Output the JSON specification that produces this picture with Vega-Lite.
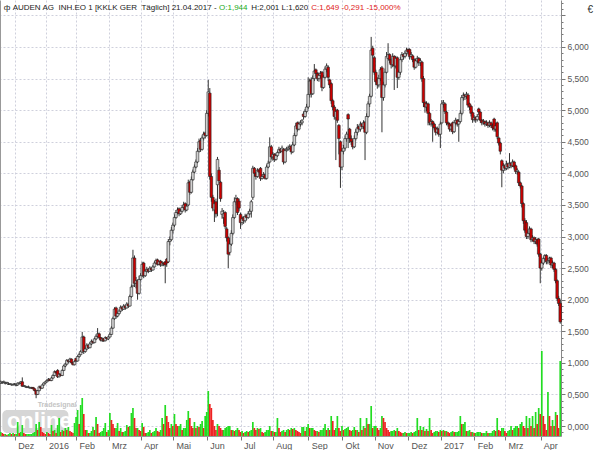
{
"$schema": "https://vega.github.io/schema/vega-lite/v6.json",
"width": 561, "height": 436,
"autosize": {"type": "none"},
"padding": {"left": 0, "top": 0, "right": 39, "bottom": 14},
"background": "white",
"config": {"view": {"stroke": null}, "font": "Liberation Sans"},
"data": {"values": [
{"d":"2015-11-17","o":0.68,"h":0.72,"l":0.67,"c":0.70,"v":4},
{"d":"2015-11-18","o":0.68,"h":0.71,"l":0.67,"c":0.69,"v":3},
{"d":"2015-11-19","o":0.69,"h":0.72,"l":0.68,"c":0.70,"v":2},
{"d":"2015-11-20","o":0.67,"h":0.70,"l":0.66,"c":0.68,"v":2},
{"d":"2015-11-23","o":0.68,"h":0.70,"l":0.67,"c":0.69,"v":1},
{"d":"2015-11-24","o":0.66,"h":0.69,"l":0.65,"c":0.66,"v":2},
{"d":"2015-11-25","o":0.66,"h":0.68,"l":0.65,"c":0.67,"v":3},
{"d":"2015-11-26","o":0.65,"h":0.67,"l":0.64,"c":0.66,"v":2},
{"d":"2015-11-27","o":0.65,"h":0.67,"l":0.64,"c":0.66,"v":3},
{"d":"2015-11-30","o":0.66,"h":0.68,"l":0.65,"c":0.67,"v":2},
{"d":"2015-12-01","o":0.64,"h":0.67,"l":0.63,"c":0.65,"v":2},
{"d":"2015-12-02","o":0.65,"h":0.69,"l":0.64,"c":0.68,"v":14},
{"d":"2015-12-03","o":0.67,"h":0.69,"l":0.66,"c":0.68,"v":3},
{"d":"2015-12-04","o":0.68,"h":0.71,"l":0.67,"c":0.70,"v":4},
{"d":"2015-12-07","o":0.70,"h":0.77,"l":0.62,"c":0.63,"v":11},
{"d":"2015-12-08","o":0.63,"h":0.65,"l":0.62,"c":0.64,"v":3},
{"d":"2015-12-09","o":0.62,"h":0.64,"l":0.61,"c":0.63,"v":2},
{"d":"2015-12-10","o":0.61,"h":0.63,"l":0.60,"c":0.62,"v":2},
{"d":"2015-12-11","o":0.61,"h":0.64,"l":0.60,"c":0.62,"v":2},
{"d":"2015-12-14","o":0.60,"h":0.62,"l":0.59,"c":0.61,"v":2},
{"d":"2015-12-15","o":0.60,"h":0.62,"l":0.59,"c":0.61,"v":2},
{"d":"2015-12-16","o":0.61,"h":0.62,"l":0.58,"c":0.59,"v":3},
{"d":"2015-12-17","o":0.59,"h":0.60,"l":0.55,"c":0.56,"v":4},
{"d":"2015-12-18","o":0.56,"h":0.57,"l":0.44,"c":0.50,"v":12},
{"d":"2015-12-21","o":0.50,"h":0.57,"l":0.49,"c":0.56,"v":6},
{"d":"2015-12-22","o":0.56,"h":0.64,"l":0.55,"c":0.62,"v":14},
{"d":"2015-12-23","o":0.62,"h":0.63,"l":0.58,"c":0.60,"v":9},
{"d":"2015-12-28","o":0.60,"h":0.66,"l":0.59,"c":0.65,"v":4},
{"d":"2015-12-29","o":0.65,"h":0.69,"l":0.64,"c":0.68,"v":3},
{"d":"2015-12-30","o":0.68,"h":0.71,"l":0.67,"c":0.70,"v":2},
{"d":"2016-01-04","o":0.70,"h":0.74,"l":0.69,"c":0.72,"v":4},
{"d":"2016-01-05","o":0.72,"h":0.76,"l":0.71,"c":0.74,"v":3},
{"d":"2016-01-06","o":0.74,"h":0.75,"l":0.71,"c":0.72,"v":2},
{"d":"2016-01-07","o":0.72,"h":0.78,"l":0.71,"c":0.76,"v":11},
{"d":"2016-01-08","o":0.76,"h":0.82,"l":0.75,"c":0.80,"v":5},
{"d":"2016-01-11","o":0.80,"h":0.88,"l":0.79,"c":0.86,"v":6},
{"d":"2016-01-12","o":0.86,"h":0.87,"l":0.82,"c":0.84,"v":3},
{"d":"2016-01-13","o":0.88,"h":0.90,"l":0.76,"c":0.78,"v":11},
{"d":"2016-01-14","o":0.78,"h":0.84,"l":0.77,"c":0.82,"v":18},
{"d":"2016-01-15","o":0.82,"h":0.83,"l":0.79,"c":0.80,"v":4},
{"d":"2016-01-18","o":0.80,"h":0.90,"l":0.79,"c":0.88,"v":6},
{"d":"2016-01-19","o":0.88,"h":0.97,"l":0.87,"c":0.95,"v":5},
{"d":"2016-01-20","o":0.95,"h":1.00,"l":0.93,"c":0.98,"v":8},
{"d":"2016-01-21","o":0.98,"h":1.06,"l":0.97,"c":1.04,"v":6},
{"d":"2016-01-22","o":1.04,"h":1.05,"l":1.00,"c":1.02,"v":9},
{"d":"2016-01-25","o":1.02,"h":1.08,"l":1.01,"c":1.06,"v":5},
{"d":"2016-01-26","o":1.06,"h":1.07,"l":0.99,"c":1.00,"v":4},
{"d":"2016-01-27","o":1.00,"h":1.01,"l":0.96,"c":0.97,"v":3},
{"d":"2016-01-28","o":0.97,"h":1.04,"l":0.96,"c":1.02,"v":13},
{"d":"2016-01-29","o":1.07,"h":1.08,"l":1.01,"c":1.03,"v":19},
{"d":"2016-02-01","o":1.03,"h":1.12,"l":1.02,"c":1.10,"v":26},
{"d":"2016-02-02","o":1.10,"h":1.16,"l":1.08,"c":1.13,"v":12},
{"d":"2016-02-03","o":1.13,"h":1.20,"l":1.12,"c":1.18,"v":31},
{"d":"2016-02-04","o":1.17,"h":1.49,"l":1.16,"c":1.41,"v":38},
{"d":"2016-02-05","o":1.41,"h":1.43,"l":1.14,"c":1.18,"v":22},
{"d":"2016-02-08","o":1.18,"h":1.26,"l":1.16,"c":1.22,"v":6},
{"d":"2016-02-09","o":1.22,"h":1.31,"l":1.20,"c":1.28,"v":6},
{"d":"2016-02-10","o":1.28,"h":1.29,"l":1.22,"c":1.24,"v":3},
{"d":"2016-02-11","o":1.24,"h":1.33,"l":1.23,"c":1.30,"v":3},
{"d":"2016-02-12","o":1.30,"h":1.37,"l":1.28,"c":1.34,"v":5},
{"d":"2016-02-15","o":1.34,"h":1.35,"l":1.30,"c":1.32,"v":9},
{"d":"2016-02-16","o":1.32,"h":1.40,"l":1.31,"c":1.38,"v":6},
{"d":"2016-02-17","o":1.38,"h":1.45,"l":1.36,"c":1.42,"v":19},
{"d":"2016-02-18","o":1.42,"h":1.55,"l":1.40,"c":1.46,"v":12},
{"d":"2016-02-19","o":1.46,"h":1.48,"l":1.38,"c":1.40,"v":3},
{"d":"2016-02-22","o":1.40,"h":1.41,"l":1.34,"c":1.36,"v":4},
{"d":"2016-02-23","o":1.36,"h":1.40,"l":1.33,"c":1.38,"v":5},
{"d":"2016-02-24","o":1.38,"h":1.39,"l":1.33,"c":1.35,"v":8},
{"d":"2016-02-25","o":1.35,"h":1.42,"l":1.34,"c":1.40,"v":13},
{"d":"2016-02-26","o":1.40,"h":1.41,"l":1.36,"c":1.38,"v":4},
{"d":"2016-02-29","o":1.38,"h":1.43,"l":1.36,"c":1.41,"v":6},
{"d":"2016-03-01","o":1.41,"h":1.48,"l":1.40,"c":1.45,"v":23},
{"d":"2016-03-02","o":1.45,"h":1.58,"l":1.44,"c":1.55,"v":16},
{"d":"2016-03-03","o":1.55,"h":1.73,"l":1.54,"c":1.70,"v":12},
{"d":"2016-03-04","o":1.70,"h":1.88,"l":1.68,"c":1.85,"v":8},
{"d":"2016-03-07","o":1.87,"h":1.89,"l":1.70,"c":1.74,"v":8},
{"d":"2016-03-08","o":1.74,"h":1.80,"l":1.72,"c":1.78,"v":13},
{"d":"2016-03-09","o":1.78,"h":1.85,"l":1.76,"c":1.82,"v":5},
{"d":"2016-03-10","o":1.82,"h":1.91,"l":1.80,"c":1.88,"v":8},
{"d":"2016-03-11","o":1.88,"h":1.90,"l":1.82,"c":1.85,"v":4},
{"d":"2016-03-14","o":1.85,"h":1.93,"l":1.84,"c":1.90,"v":4},
{"d":"2016-03-15","o":1.90,"h":1.91,"l":1.84,"c":1.87,"v":5},
{"d":"2016-03-16","o":1.87,"h":1.96,"l":1.86,"c":1.93,"v":11},
{"d":"2016-03-17","o":1.93,"h":1.94,"l":1.87,"c":1.90,"v":9},
{"d":"2016-03-18","o":1.90,"h":2.08,"l":1.89,"c":2.05,"v":10},
{"d":"2016-03-21","o":2.05,"h":2.24,"l":2.03,"c":2.20,"v":23},
{"d":"2016-03-22","o":2.22,"h":2.79,"l":2.20,"c":2.66,"v":28},
{"d":"2016-03-23","o":2.66,"h":2.70,"l":2.20,"c":2.26,"v":18},
{"d":"2016-03-24","o":2.26,"h":2.36,"l":2.18,"c":2.30,"v":8},
{"d":"2016-03-29","o":2.30,"h":2.32,"l":2.00,"c":2.10,"v":8},
{"d":"2016-03-30","o":2.10,"h":2.38,"l":2.08,"c":2.32,"v":6},
{"d":"2016-03-31","o":2.32,"h":2.42,"l":2.30,"c":2.38,"v":5},
{"d":"2016-04-01","o":2.38,"h":2.60,"l":2.36,"c":2.56,"v":13},
{"d":"2016-04-04","o":2.58,"h":2.60,"l":2.34,"c":2.38,"v":9},
{"d":"2016-04-05","o":2.38,"h":2.48,"l":2.36,"c":2.45,"v":3},
{"d":"2016-04-06","o":2.45,"h":2.52,"l":2.43,"c":2.48,"v":3},
{"d":"2016-04-07","o":2.48,"h":2.50,"l":2.42,"c":2.45,"v":4},
{"d":"2016-04-08","o":2.45,"h":2.53,"l":2.44,"c":2.50,"v":6},
{"d":"2016-04-11","o":2.50,"h":2.51,"l":2.44,"c":2.47,"v":3},
{"d":"2016-04-12","o":2.47,"h":2.55,"l":2.46,"c":2.52,"v":4},
{"d":"2016-04-13","o":2.52,"h":2.61,"l":2.51,"c":2.58,"v":5},
{"d":"2016-04-14","o":2.58,"h":2.65,"l":2.56,"c":2.62,"v":8},
{"d":"2016-04-15","o":2.63,"h":2.65,"l":2.54,"c":2.56,"v":5},
{"d":"2016-04-18","o":2.56,"h":2.62,"l":2.54,"c":2.60,"v":4},
{"d":"2016-04-19","o":2.61,"h":2.63,"l":2.52,"c":2.55,"v":6},
{"d":"2016-04-20","o":2.55,"h":2.61,"l":2.53,"c":2.58,"v":18},
{"d":"2016-04-21","o":2.58,"h":2.59,"l":2.53,"c":2.56,"v":12},
{"d":"2016-04-22","o":2.60,"h":2.61,"l":2.26,"c":2.55,"v":31},
{"d":"2016-04-25","o":2.64,"h":2.66,"l":2.52,"c":2.58,"v":20},
{"d":"2016-04-26","o":2.60,"h":2.96,"l":2.58,"c":2.92,"v":14},
{"d":"2016-04-27","o":2.92,"h":3.00,"l":2.86,"c":2.95,"v":8},
{"d":"2016-04-28","o":2.95,"h":3.15,"l":2.93,"c":3.10,"v":12},
{"d":"2016-04-29","o":3.10,"h":3.22,"l":3.05,"c":3.18,"v":10},
{"d":"2016-05-02","o":3.18,"h":3.35,"l":3.15,"c":3.30,"v":22},
{"d":"2016-05-03","o":3.30,"h":3.42,"l":3.28,"c":3.38,"v":12},
{"d":"2016-05-04","o":3.38,"h":3.46,"l":3.35,"c":3.42,"v":10},
{"d":"2016-05-05","o":3.44,"h":3.46,"l":3.32,"c":3.36,"v":10},
{"d":"2016-05-06","o":3.36,"h":3.44,"l":3.34,"c":3.40,"v":12},
{"d":"2016-05-09","o":3.40,"h":3.50,"l":3.38,"c":3.46,"v":6},
{"d":"2016-05-10","o":3.46,"h":3.55,"l":3.44,"c":3.50,"v":8},
{"d":"2016-05-11","o":3.52,"h":3.54,"l":3.38,"c":3.42,"v":8},
{"d":"2016-05-12","o":3.42,"h":3.52,"l":3.40,"c":3.48,"v":16},
{"d":"2016-05-13","o":3.50,"h":3.90,"l":3.48,"c":3.85,"v":25},
{"d":"2016-05-16","o":3.86,"h":3.88,"l":3.66,"c":3.70,"v":18},
{"d":"2016-05-17","o":3.70,"h":3.95,"l":3.68,"c":3.90,"v":10},
{"d":"2016-05-18","o":3.90,"h":4.06,"l":3.88,"c":4.02,"v":8},
{"d":"2016-05-19","o":4.02,"h":4.14,"l":4.00,"c":4.10,"v":14},
{"d":"2016-05-20","o":4.10,"h":4.22,"l":4.08,"c":4.18,"v":8},
{"d":"2016-05-23","o":4.18,"h":4.40,"l":4.16,"c":4.35,"v":10},
{"d":"2016-05-24","o":4.35,"h":4.55,"l":4.33,"c":4.50,"v":9},
{"d":"2016-05-25","o":4.52,"h":4.56,"l":4.34,"c":4.38,"v":12},
{"d":"2016-05-26","o":4.38,"h":4.60,"l":4.36,"c":4.56,"v":15},
{"d":"2016-05-27","o":4.56,"h":4.66,"l":4.52,"c":4.62,"v":8},
{"d":"2016-05-30","o":4.64,"h":4.66,"l":4.55,"c":4.60,"v":20},
{"d":"2016-05-31","o":4.60,"h":5.00,"l":4.58,"c":4.95,"v":24},
{"d":"2016-06-01","o":4.95,"h":5.48,"l":4.90,"c":5.29,"v":45},
{"d":"2016-06-02","o":5.27,"h":5.35,"l":3.90,"c":3.95,"v":32},
{"d":"2016-06-03","o":3.95,"h":4.00,"l":3.55,"c":3.62,"v":28},
{"d":"2016-06-06","o":3.62,"h":3.66,"l":3.40,"c":3.45,"v":16},
{"d":"2016-06-07","o":3.42,"h":3.58,"l":3.23,"c":3.52,"v":10},
{"d":"2016-06-08","o":3.55,"h":3.60,"l":3.30,"c":3.36,"v":6},
{"d":"2016-06-09","o":3.82,"h":4.26,"l":3.32,"c":4.22,"v":12},
{"d":"2016-06-10","o":4.05,"h":4.10,"l":3.84,"c":3.88,"v":10},
{"d":"2016-06-13","o":3.86,"h":3.88,"l":3.55,"c":3.60,"v":8},
{"d":"2016-06-14","o":3.35,"h":3.45,"l":3.28,"c":3.40,"v":6},
{"d":"2016-06-15","o":3.30,"h":3.42,"l":3.20,"c":3.36,"v":6},
{"d":"2016-06-16","o":3.38,"h":3.40,"l":3.12,"c":3.16,"v":8},
{"d":"2016-06-17","o":3.12,"h":3.15,"l":2.92,"c":2.98,"v":9},
{"d":"2016-06-20","o":2.98,"h":3.00,"l":2.50,"c":2.72,"v":10},
{"d":"2016-06-21","o":2.75,"h":2.95,"l":2.70,"c":2.88,"v":10},
{"d":"2016-06-22","o":2.88,"h":3.10,"l":2.85,"c":3.05,"v":6},
{"d":"2016-06-23","o":3.05,"h":3.35,"l":3.02,"c":3.30,"v":6},
{"d":"2016-06-24","o":3.30,"h":3.62,"l":3.28,"c":3.55,"v":5},
{"d":"2016-06-27","o":3.55,"h":3.66,"l":3.50,"c":3.60,"v":6},
{"d":"2016-06-28","o":3.60,"h":3.62,"l":3.34,"c":3.38,"v":8},
{"d":"2016-06-29","o":3.56,"h":3.60,"l":3.40,"c":3.45,"v":6},
{"d":"2016-06-30","o":3.35,"h":3.38,"l":3.12,"c":3.22,"v":4},
{"d":"2016-07-01","o":3.22,"h":3.32,"l":3.18,"c":3.28,"v":5},
{"d":"2016-07-04","o":3.30,"h":3.32,"l":3.20,"c":3.25,"v":3},
{"d":"2016-07-05","o":3.25,"h":3.36,"l":3.22,"c":3.32,"v":4},
{"d":"2016-07-06","o":3.33,"h":3.35,"l":3.26,"c":3.30,"v":5},
{"d":"2016-07-07","o":3.30,"h":3.40,"l":3.28,"c":3.36,"v":4},
{"d":"2016-07-08","o":3.36,"h":3.44,"l":3.34,"c":3.40,"v":5},
{"d":"2016-07-11","o":3.40,"h":3.58,"l":3.30,"c":3.55,"v":6},
{"d":"2016-07-12","o":3.62,"h":4.12,"l":3.58,"c":4.08,"v":14},
{"d":"2016-07-13","o":4.08,"h":4.10,"l":3.95,"c":4.00,"v":8},
{"d":"2016-07-14","o":4.00,"h":4.02,"l":3.90,"c":3.95,"v":6},
{"d":"2016-07-15","o":3.95,"h":4.08,"l":3.93,"c":4.05,"v":8},
{"d":"2016-07-18","o":4.05,"h":4.07,"l":3.98,"c":4.02,"v":7},
{"d":"2016-07-19","o":4.08,"h":4.10,"l":3.88,"c":3.92,"v":8},
{"d":"2016-07-20","o":3.92,"h":3.99,"l":3.90,"c":3.95,"v":4},
{"d":"2016-07-21","o":3.95,"h":4.02,"l":3.92,"c":3.98,"v":3},
{"d":"2016-07-22","o":3.98,"h":4.00,"l":3.90,"c":3.92,"v":4},
{"d":"2016-07-25","o":3.92,"h":4.14,"l":3.90,"c":4.10,"v":6},
{"d":"2016-07-26","o":4.10,"h":4.20,"l":4.08,"c":4.16,"v":6},
{"d":"2016-07-27","o":4.18,"h":4.57,"l":4.16,"c":4.42,"v":10},
{"d":"2016-07-28","o":4.42,"h":4.45,"l":4.22,"c":4.26,"v":5},
{"d":"2016-07-29","o":4.26,"h":4.34,"l":4.20,"c":4.30,"v":5},
{"d":"2016-08-01","o":4.30,"h":4.32,"l":4.18,"c":4.22,"v":4},
{"d":"2016-08-02","o":4.22,"h":4.32,"l":4.20,"c":4.28,"v":4},
{"d":"2016-08-03","o":4.28,"h":4.36,"l":4.26,"c":4.33,"v":18},
{"d":"2016-08-04","o":4.33,"h":4.42,"l":4.31,"c":4.38,"v":8},
{"d":"2016-08-05","o":4.38,"h":4.40,"l":4.32,"c":4.35,"v":4},
{"d":"2016-08-08","o":4.35,"h":4.44,"l":4.33,"c":4.40,"v":5},
{"d":"2016-08-09","o":4.38,"h":4.40,"l":4.14,"c":4.18,"v":6},
{"d":"2016-08-10","o":4.18,"h":4.40,"l":4.16,"c":4.36,"v":4},
{"d":"2016-08-11","o":4.36,"h":4.42,"l":4.34,"c":4.38,"v":6},
{"d":"2016-08-12","o":4.38,"h":4.44,"l":4.36,"c":4.40,"v":7},
{"d":"2016-08-15","o":4.40,"h":4.46,"l":4.38,"c":4.42,"v":6},
{"d":"2016-08-16","o":4.43,"h":4.45,"l":4.30,"c":4.34,"v":8},
{"d":"2016-08-17","o":4.34,"h":4.50,"l":4.32,"c":4.45,"v":7},
{"d":"2016-08-18","o":4.45,"h":4.64,"l":4.43,"c":4.60,"v":8},
{"d":"2016-08-19","o":4.60,"h":4.80,"l":4.58,"c":4.75,"v":6},
{"d":"2016-08-22","o":4.80,"h":4.82,"l":4.66,"c":4.70,"v":5},
{"d":"2016-08-23","o":4.70,"h":4.82,"l":4.68,"c":4.78,"v":4},
{"d":"2016-08-24","o":4.78,"h":4.84,"l":4.74,"c":4.80,"v":3},
{"d":"2016-08-25","o":4.80,"h":4.86,"l":4.76,"c":4.83,"v":9},
{"d":"2016-08-26","o":4.94,"h":4.98,"l":4.85,"c":4.90,"v":9},
{"d":"2016-08-29","o":4.90,"h":5.02,"l":4.88,"c":4.98,"v":5},
{"d":"2016-08-30","o":4.98,"h":5.10,"l":4.95,"c":5.05,"v":9},
{"d":"2016-08-31","o":5.05,"h":5.52,"l":5.02,"c":5.25,"v":12},
{"d":"2016-09-01","o":5.25,"h":5.50,"l":5.20,"c":5.46,"v":8},
{"d":"2016-09-02","o":5.48,"h":5.52,"l":5.20,"c":5.26,"v":8},
{"d":"2016-09-05","o":5.26,"h":5.55,"l":5.24,"c":5.50,"v":8},
{"d":"2016-09-06","o":5.50,"h":5.73,"l":5.46,"c":5.62,"v":6},
{"d":"2016-09-07","o":5.64,"h":5.66,"l":5.54,"c":5.58,"v":5},
{"d":"2016-09-08","o":5.58,"h":5.60,"l":5.46,"c":5.50,"v":5},
{"d":"2016-09-09","o":5.50,"h":5.60,"l":5.45,"c":5.55,"v":4},
{"d":"2016-09-12","o":5.55,"h":5.62,"l":5.50,"c":5.58,"v":6},
{"d":"2016-09-13","o":5.60,"h":5.62,"l":5.30,"c":5.36,"v":6},
{"d":"2016-09-14","o":5.36,"h":5.56,"l":5.34,"c":5.52,"v":8},
{"d":"2016-09-15","o":5.52,"h":5.69,"l":5.50,"c":5.65,"v":12},
{"d":"2016-09-16","o":5.65,"h":5.74,"l":5.60,"c":5.70,"v":6},
{"d":"2016-09-19","o":5.68,"h":5.71,"l":5.46,"c":5.52,"v":8},
{"d":"2016-09-20","o":5.48,"h":5.50,"l":5.35,"c":5.40,"v":6},
{"d":"2016-09-21","o":5.42,"h":5.44,"l":5.10,"c":5.15,"v":20},
{"d":"2016-09-22","o":5.15,"h":5.18,"l":5.00,"c":5.05,"v":15},
{"d":"2016-09-23","o":5.05,"h":5.08,"l":4.85,"c":4.90,"v":6},
{"d":"2016-09-26","o":4.88,"h":5.02,"l":4.21,"c":4.98,"v":8},
{"d":"2016-09-27","o":5.00,"h":5.02,"l":4.80,"c":4.84,"v":20},
{"d":"2016-09-28","o":4.76,"h":4.78,"l":4.30,"c":4.55,"v":8},
{"d":"2016-09-29","o":4.50,"h":4.52,"l":3.77,"c":4.10,"v":5},
{"d":"2016-09-30","o":4.10,"h":4.40,"l":4.05,"c":4.35,"v":10},
{"d":"2016-10-03","o":4.35,"h":4.45,"l":4.30,"c":4.40,"v":6},
{"d":"2016-10-04","o":4.40,"h":4.60,"l":4.36,"c":4.55,"v":7},
{"d":"2016-10-05","o":4.55,"h":4.66,"l":4.50,"c":4.62,"v":8},
{"d":"2016-10-06","o":4.93,"h":4.95,"l":4.40,"c":4.86,"v":9},
{"d":"2016-10-07","o":4.70,"h":4.72,"l":4.48,"c":4.55,"v":6},
{"d":"2016-10-10","o":4.55,"h":4.60,"l":4.45,"c":4.50,"v":5},
{"d":"2016-10-11","o":4.50,"h":4.52,"l":4.38,"c":4.42,"v":6},
{"d":"2016-10-12","o":4.42,"h":4.60,"l":4.40,"c":4.55,"v":9},
{"d":"2016-10-13","o":4.55,"h":4.70,"l":4.52,"c":4.65,"v":6},
{"d":"2016-10-14","o":4.65,"h":4.78,"l":4.60,"c":4.72,"v":6},
{"d":"2016-10-17","o":4.74,"h":4.76,"l":4.66,"c":4.70,"v":4},
{"d":"2016-10-18","o":4.70,"h":4.82,"l":4.66,"c":4.78,"v":18},
{"d":"2016-10-19","o":4.78,"h":4.80,"l":4.70,"c":4.74,"v":6},
{"d":"2016-10-20","o":4.74,"h":4.84,"l":4.70,"c":4.80,"v":10},
{"d":"2016-10-21","o":4.81,"h":4.83,"l":4.21,"c":4.65,"v":8},
{"d":"2016-10-24","o":4.65,"h":4.95,"l":4.62,"c":4.90,"v":18},
{"d":"2016-10-25","o":4.90,"h":5.14,"l":4.88,"c":5.10,"v":12},
{"d":"2016-10-26","o":5.10,"h":5.26,"l":5.05,"c":5.22,"v":12},
{"d":"2016-10-27","o":5.22,"h":6.16,"l":5.20,"c":5.95,"v":30},
{"d":"2016-10-28","o":5.98,"h":6.02,"l":5.82,"c":5.87,"v":8},
{"d":"2016-10-31","o":5.83,"h":5.86,"l":5.56,"c":5.60,"v":10},
{"d":"2016-11-01","o":5.60,"h":5.64,"l":5.40,"c":5.45,"v":10},
{"d":"2016-11-02","o":5.48,"h":5.52,"l":5.34,"c":5.40,"v":8},
{"d":"2016-11-03","o":5.40,"h":5.56,"l":5.36,"c":5.50,"v":6},
{"d":"2016-11-04","o":5.50,"h":5.68,"l":5.46,"c":5.64,"v":8},
{"d":"2016-11-07","o":5.67,"h":5.70,"l":4.65,"c":5.20,"v":20},
{"d":"2016-11-08","o":5.20,"h":5.45,"l":5.15,"c":5.40,"v":18},
{"d":"2016-11-09","o":5.40,"h":5.66,"l":5.36,"c":5.60,"v":14},
{"d":"2016-11-10","o":5.60,"h":5.92,"l":5.58,"c":5.85,"v":8},
{"d":"2016-11-11","o":5.82,"h":6.06,"l":5.78,"c":5.88,"v":6},
{"d":"2016-11-14","o":5.88,"h":5.90,"l":5.74,"c":5.80,"v":4},
{"d":"2016-11-15","o":5.80,"h":5.82,"l":5.66,"c":5.72,"v":5},
{"d":"2016-11-16","o":5.72,"h":5.90,"l":5.68,"c":5.85,"v":5},
{"d":"2016-11-17","o":5.85,"h":5.87,"l":5.32,"c":5.70,"v":6},
{"d":"2016-11-18","o":5.70,"h":5.86,"l":5.66,"c":5.82,"v":5},
{"d":"2016-11-21","o":5.83,"h":5.85,"l":5.35,"c":5.52,"v":8},
{"d":"2016-11-22","o":5.52,"h":5.64,"l":5.48,"c":5.60,"v":5},
{"d":"2016-11-23","o":5.60,"h":5.84,"l":5.56,"c":5.80,"v":4},
{"d":"2016-11-24","o":5.80,"h":5.92,"l":5.76,"c":5.88,"v":3},
{"d":"2016-11-25","o":5.88,"h":5.90,"l":5.80,"c":5.85,"v":3},
{"d":"2016-11-28","o":5.85,"h":5.94,"l":5.82,"c":5.90,"v":4},
{"d":"2016-11-29","o":5.90,"h":5.99,"l":5.86,"c":5.95,"v":3},
{"d":"2016-11-30","o":5.96,"h":5.98,"l":5.88,"c":5.92,"v":3},
{"d":"2016-12-01","o":5.96,"h":5.98,"l":5.80,"c":5.85,"v":3},
{"d":"2016-12-02","o":5.85,"h":5.92,"l":5.82,"c":5.88,"v":4},
{"d":"2016-12-05","o":5.86,"h":5.88,"l":5.76,"c":5.80,"v":3},
{"d":"2016-12-06","o":5.80,"h":5.82,"l":5.64,"c":5.68,"v":4},
{"d":"2016-12-07","o":5.68,"h":5.82,"l":5.66,"c":5.78,"v":5},
{"d":"2016-12-08","o":5.78,"h":5.86,"l":5.74,"c":5.82,"v":18},
{"d":"2016-12-09","o":5.82,"h":5.84,"l":5.70,"c":5.75,"v":6},
{"d":"2016-12-12","o":5.75,"h":5.82,"l":5.70,"c":5.78,"v":10},
{"d":"2016-12-13","o":5.76,"h":5.78,"l":5.45,"c":5.50,"v":6},
{"d":"2016-12-14","o":5.50,"h":5.54,"l":5.05,"c":5.12,"v":9},
{"d":"2016-12-15","o":5.12,"h":5.15,"l":4.96,"c":5.05,"v":5},
{"d":"2016-12-16","o":5.05,"h":5.14,"l":4.98,"c":5.10,"v":7},
{"d":"2016-12-19","o":5.10,"h":5.12,"l":4.76,"c":4.95,"v":5},
{"d":"2016-12-20","o":4.95,"h":4.97,"l":4.76,"c":4.80,"v":18},
{"d":"2016-12-21","o":4.78,"h":4.86,"l":4.74,"c":4.82,"v":6},
{"d":"2016-12-22","o":4.82,"h":4.84,"l":4.50,"c":4.78,"v":3},
{"d":"2016-12-23","o":4.78,"h":4.80,"l":4.68,"c":4.72,"v":4},
{"d":"2016-12-27","o":4.72,"h":4.74,"l":4.60,"c":4.65,"v":5},
{"d":"2016-12-28","o":4.65,"h":4.74,"l":4.62,"c":4.70,"v":5},
{"d":"2016-12-29","o":4.70,"h":4.72,"l":4.58,"c":4.62,"v":4},
{"d":"2016-12-30","o":4.62,"h":4.82,"l":4.40,"c":4.78,"v":6},
{"d":"2017-01-02","o":4.80,"h":5.16,"l":4.78,"c":5.10,"v":5},
{"d":"2017-01-03","o":5.10,"h":5.16,"l":5.04,"c":5.12,"v":6},
{"d":"2017-01-04","o":5.10,"h":5.12,"l":4.94,"c":4.98,"v":5},
{"d":"2017-01-05","o":4.97,"h":4.99,"l":4.76,"c":4.80,"v":5},
{"d":"2017-01-06","o":4.80,"h":4.82,"l":4.74,"c":4.78,"v":4},
{"d":"2017-01-09","o":4.78,"h":4.80,"l":4.66,"c":4.70,"v":3},
{"d":"2017-01-10","o":4.70,"h":4.79,"l":4.66,"c":4.75,"v":4},
{"d":"2017-01-11","o":4.80,"h":4.82,"l":4.62,"c":4.66,"v":5},
{"d":"2017-01-12","o":4.66,"h":4.84,"l":4.64,"c":4.80,"v":4},
{"d":"2017-01-13","o":4.80,"h":4.88,"l":4.76,"c":4.84,"v":4},
{"d":"2017-01-16","o":4.84,"h":4.86,"l":4.74,"c":4.78,"v":4},
{"d":"2017-01-17","o":4.78,"h":4.86,"l":4.50,"c":4.82,"v":5},
{"d":"2017-01-18","o":4.82,"h":5.00,"l":4.80,"c":4.95,"v":20},
{"d":"2017-01-19","o":4.95,"h":5.24,"l":4.92,"c":5.20,"v":12},
{"d":"2017-01-20","o":5.20,"h":5.28,"l":5.15,"c":5.24,"v":12},
{"d":"2017-01-23","o":5.24,"h":5.26,"l":5.16,"c":5.22,"v":14},
{"d":"2017-01-24","o":5.22,"h":5.29,"l":5.18,"c":5.25,"v":5},
{"d":"2017-01-25","o":5.24,"h":5.27,"l":5.04,"c":5.08,"v":5},
{"d":"2017-01-26","o":5.10,"h":5.12,"l":5.00,"c":5.05,"v":6},
{"d":"2017-01-27","o":5.06,"h":5.08,"l":4.90,"c":4.95,"v":4},
{"d":"2017-01-30","o":4.96,"h":4.98,"l":4.80,"c":4.85,"v":4},
{"d":"2017-01-31","o":4.85,"h":4.92,"l":4.82,"c":4.88,"v":3},
{"d":"2017-02-01","o":4.88,"h":4.90,"l":4.80,"c":4.85,"v":3},
{"d":"2017-02-02","o":4.85,"h":4.94,"l":4.82,"c":4.90,"v":4},
{"d":"2017-02-03","o":5.02,"h":5.04,"l":4.92,"c":4.97,"v":4},
{"d":"2017-02-06","o":4.97,"h":4.98,"l":4.80,"c":4.84,"v":4},
{"d":"2017-02-07","o":4.84,"h":4.86,"l":4.76,"c":4.80,"v":3},
{"d":"2017-02-08","o":4.80,"h":4.86,"l":4.77,"c":4.82,"v":3},
{"d":"2017-02-09","o":4.82,"h":4.84,"l":4.74,"c":4.78,"v":3},
{"d":"2017-02-10","o":4.78,"h":4.84,"l":4.75,"c":4.80,"v":5},
{"d":"2017-02-13","o":4.80,"h":4.82,"l":4.72,"c":4.76,"v":3},
{"d":"2017-02-14","o":4.76,"h":4.84,"l":4.73,"c":4.80,"v":3},
{"d":"2017-02-15","o":4.80,"h":4.82,"l":4.72,"c":4.76,"v":3},
{"d":"2017-02-16","o":4.76,"h":4.78,"l":4.68,"c":4.72,"v":5},
{"d":"2017-02-17","o":4.86,"h":4.88,"l":4.66,"c":4.70,"v":6},
{"d":"2017-02-20","o":4.70,"h":4.80,"l":4.66,"c":4.75,"v":5},
{"d":"2017-02-21","o":4.80,"h":4.82,"l":4.54,"c":4.58,"v":18},
{"d":"2017-02-22","o":4.56,"h":4.58,"l":4.44,"c":4.48,"v":6},
{"d":"2017-02-23","o":4.48,"h":4.50,"l":4.30,"c":4.35,"v":5},
{"d":"2017-02-24","o":4.20,"h":4.22,"l":3.78,"c":4.05,"v":8},
{"d":"2017-02-27","o":4.05,"h":4.16,"l":4.00,"c":4.12,"v":8},
{"d":"2017-02-28","o":4.12,"h":4.14,"l":4.04,"c":4.08,"v":5},
{"d":"2017-03-01","o":4.08,"h":4.20,"l":4.05,"c":4.15,"v":3},
{"d":"2017-03-02","o":4.15,"h":4.17,"l":4.06,"c":4.10,"v":5},
{"d":"2017-03-03","o":4.10,"h":4.32,"l":4.08,"c":4.16,"v":6},
{"d":"2017-03-06","o":4.16,"h":4.18,"l":4.08,"c":4.12,"v":10},
{"d":"2017-03-07","o":4.12,"h":4.22,"l":4.10,"c":4.18,"v":6},
{"d":"2017-03-08","o":4.18,"h":4.20,"l":4.06,"c":4.10,"v":8},
{"d":"2017-03-09","o":4.12,"h":4.14,"l":3.99,"c":4.03,"v":10},
{"d":"2017-03-10","o":4.03,"h":4.08,"l":3.98,"c":4.05,"v":10},
{"d":"2017-03-13","o":4.02,"h":4.04,"l":3.80,"c":3.85,"v":8},
{"d":"2017-03-14","o":3.85,"h":3.87,"l":3.76,"c":3.80,"v":12},
{"d":"2017-03-15","o":3.80,"h":3.82,"l":3.46,"c":3.52,"v":14},
{"d":"2017-03-16","o":3.52,"h":3.54,"l":3.20,"c":3.25,"v":10},
{"d":"2017-03-17","o":3.25,"h":3.29,"l":3.06,"c":3.10,"v":8},
{"d":"2017-03-20","o":3.22,"h":3.26,"l":2.96,"c":3.00,"v":20},
{"d":"2017-03-21","o":3.00,"h":3.10,"l":2.96,"c":3.05,"v":8},
{"d":"2017-03-22","o":3.05,"h":3.16,"l":3.02,"c":3.12,"v":18},
{"d":"2017-03-23","o":3.12,"h":3.14,"l":2.91,"c":2.95,"v":10},
{"d":"2017-03-24","o":2.95,"h":3.02,"l":2.92,"c":2.98,"v":20},
{"d":"2017-03-27","o":2.98,"h":3.00,"l":2.88,"c":2.92,"v":8},
{"d":"2017-03-28","o":2.92,"h":2.99,"l":2.88,"c":2.95,"v":24},
{"d":"2017-03-29","o":2.95,"h":2.97,"l":2.84,"c":2.88,"v":12},
{"d":"2017-03-30","o":2.96,"h":2.98,"l":2.68,"c":2.72,"v":28},
{"d":"2017-03-31","o":2.72,"h":2.74,"l":2.26,"c":2.50,"v":22},
{"d":"2017-04-03","o":2.50,"h":2.62,"l":2.46,"c":2.58,"v":85},
{"d":"2017-04-04","o":2.58,"h":2.68,"l":2.55,"c":2.65,"v":20},
{"d":"2017-04-05","o":2.65,"h":2.72,"l":2.60,"c":2.70,"v":12},
{"d":"2017-04-06","o":2.70,"h":2.72,"l":2.56,"c":2.60,"v":6},
{"d":"2017-04-07","o":2.60,"h":2.66,"l":2.56,"c":2.62,"v":44},
{"d":"2017-04-10","o":2.62,"h":2.68,"l":2.58,"c":2.66,"v":20},
{"d":"2017-04-11","o":2.66,"h":2.68,"l":2.50,"c":2.55,"v":10},
{"d":"2017-04-12","o":2.55,"h":2.62,"l":2.50,"c":2.58,"v":16},
{"d":"2017-04-13","o":2.58,"h":2.60,"l":2.44,"c":2.48,"v":10},
{"d":"2017-04-18","o":2.48,"h":2.50,"l":2.26,"c":2.30,"v":24},
{"d":"2017-04-19","o":2.30,"h":2.32,"l":1.98,"c":2.02,"v":21},
{"d":"2017-04-20","o":2.02,"h":2.06,"l":1.90,"c":1.94,"v":8},
{"d":"2017-04-21","o":1.944,"h":2.001,"l":1.62,"c":1.649,"v":75}
]},
"encoding": {
  "x": {"field": "d", "type": "ordinal",
    "scale": {"type": "band", "paddingInner": 0, "paddingOuter": 0},
    "axis": {"title": null, "values": ["2015-12-01","2016-01-04","2016-02-01","2016-03-01","2016-04-01","2016-05-02","2016-06-01","2016-07-01","2016-08-01","2016-09-01","2016-10-03","2016-11-01","2016-12-01","2017-01-02","2017-02-01","2017-03-01","2017-04-03"],
      "labelExpr": "substring(datum.value,5,7) == '01' ? substring(datum.value,0,4) : ['Jan','Feb','Mrz','Apr','Mai','Jun','Jul','Aug','Sep','Okt','Nov','Dez'][toNumber(substring(datum.value,5,7))-1]",
      "labelAngle": 0, "labelAlign": "left", "labelOffset": 2, "labelPadding": 1, "labelFontSize": 9, "labelFont": "Liberation Sans", "labelColor": "#555555",
      "grid": true, "gridColor": "#cfd0dc", "gridDash": [2, 2], "bandPosition": 0,
      "tickSize": 4, "tickColor": "#777777", "domainColor": "#999999", "labelOverlap": false}}
},
"layer": [
  {"layer": [
    {"data": {"values": [{}]}, "mark": {"type": "bar", "color": "#d6d6d6", "cornerRadius": 5},
     "encoding": {"x": {"datum": "2015-11-18", "type": "ordinal"}, "x2": {"datum": "2016-01-22"}, "y": {"datum": 3, "type": "quantitative"}, "y2": {"datum": 26}}},
    {"data": {"values": [{}]}, "mark": {"type": "text", "text": "online", "font": "Liberation Sans", "fontSize": 22, "fontWeight": "bold", "color": "#ffffff", "align": "left", "baseline": "alphabetic"},
     "encoding": {"x": {"datum": "2015-11-23", "type": "ordinal"}, "y": {"datum": 8, "type": "quantitative"}}},
    {"data": {"values": [{}]}, "mark": {"type": "text", "text": "Tradesignal", "font": "Liberation Sans", "fontSize": 7, "fontWeight": "bold", "color": "#c4c4c4", "align": "left", "baseline": "middle"},
     "encoding": {"x": {"datum": "2015-12-21", "type": "ordinal"}, "y": {"datum": 31, "type": "quantitative"}}},
    {"transform": [{"window": [{"op": "lag", "field": "v", "as": "pv"}], "sort": [{"field": "d", "order": "ascending"}]}],
     "mark": {"type": "bar", "width": 1.7},
     "encoding": {"y": {"field": "v", "type": "quantitative", "scale": {"domain": [0, 436], "nice": false},
        "axis": {"orient": "left", "labels": false, "ticks": false, "grid": false, "title": null, "domain": true, "domainColor": "#999999"}},
       "color": {"condition": {"test": "datum.pv == null || datum.v >= datum.pv", "value": "#22dd22"}, "value": "#ee2222"}}}
  ]},
  {"layer": [
    {"mark": {"type": "rule", "color": "#333333", "strokeWidth": 1},
     "encoding": {"y": {"field": "l", "type": "quantitative", "scale": {"domain": [-0.158, 6.744], "nice": false, "zero": false},
        "axis": {"orient": "right", "tickCount": 500, "values": [-0.1,0,0.1,0.2,0.3,0.4,0.5,0.6,0.7,0.8,0.9,1,1.1,1.2,1.3,1.4,1.5,1.6,1.7,1.8,1.9,2,2.1,2.2,2.3,2.4,2.5,2.6,2.7,2.8,2.9,3,3.1,3.2,3.3,3.4,3.5,3.6,3.7,3.8,3.9,4,4.1,4.2,4.3,4.4,4.5,4.6,4.7,4.8,4.9,5,5.1,5.2,5.3,5.4,5.5,5.6,5.7,5.8,5.9,6,6.1,6.2,6.3,6.4,6.5,6.6,6.7],
          "grid": true, "gridColor": "#cfd0dc", "gridDash": [2, 2],
          "gridOpacity": {"condition": {"test": "abs(datum.value*2 - round(datum.value*2)) < 0.001 && datum.value > -0.05", "value": 1}, "value": 0},
          "tickSize": {"condition": {"test": "abs(datum.value*2 - round(datum.value*2)) < 0.001 && datum.value > -0.05", "value": 4}, "value": 2},
          "tickColor": "#777777", "domainColor": "#888888",
          "labelExpr": "abs(datum.value*2 - round(datum.value*2)) < 0.001 && datum.value > -0.05 && datum.value < 6.05 ? replace(format(datum.value, '.3f'), '.', ',') : ''",
          "labelOverlap": false, "labelFont": "Liberation Sans", "labelFontSize": 8.5, "labelColor": "#555555", "labelPadding": 2,
          "title": "€", "titleAngle": 0, "titleX": 26, "titleY": 9, "titleAlign": "left", "titleBaseline": "middle", "titleFontWeight": "normal", "titleFontSize": 10, "titleColor": "#333333", "titleFont": "Liberation Sans"}},
       "y2": {"field": "h"}}},
    {"mark": {"type": "bar", "width": 2.6, "stroke": "#222222", "strokeWidth": 0.6},
     "encoding": {"y": {"field": "o", "type": "quantitative"}, "y2": {"field": "c"},
       "fill": {"condition": {"test": "datum.c >= datum.o", "value": "#d2d2d2"}, "value": "#cc0000"}}},
    {"data": {"values": [{}]}, "mark": {"type": "text", "text": "ф AUDEN AG\u00a0 INH.EO 1 [KKLK GER\u00a0 Täglich] 21.04.2017 -", "font": "Liberation Sans", "fontSize": 8, "color": "#222222", "align": "left", "baseline": "middle"},
     "encoding": {"x": {"datum": "2015-11-19", "type": "ordinal"}, "y": {"datum": 6.617, "type": "quantitative"}}},
    {"data": {"values": [{}]}, "mark": {"type": "text", "text": "O:1,944", "font": "Liberation Sans", "fontSize": 8, "color": "#22aa22", "align": "left", "baseline": "middle"},
     "encoding": {"x": {"datum": "2016-06-10", "type": "ordinal"}, "y": {"datum": 6.617, "type": "quantitative"}}},
    {"data": {"values": [{}]}, "mark": {"type": "text", "text": "H:2,001 L:1,620", "font": "Liberation Sans", "fontSize": 8, "color": "#222222", "align": "left", "baseline": "middle"},
     "encoding": {"x": {"datum": "2016-07-11", "type": "ordinal"}, "y": {"datum": 6.617, "type": "quantitative"}}},
    {"data": {"values": [{}]}, "mark": {"type": "text", "text": "C:1,649 -0,291 -15,000%", "font": "Liberation Sans", "fontSize": 8, "color": "#e02020", "align": "left", "baseline": "middle"},
     "encoding": {"x": {"datum": "2016-09-02", "type": "ordinal"}, "y": {"datum": 6.617, "type": "quantitative"}}}
  ]}
],
"resolve": {"scale": {"y": "independent"}}
}
